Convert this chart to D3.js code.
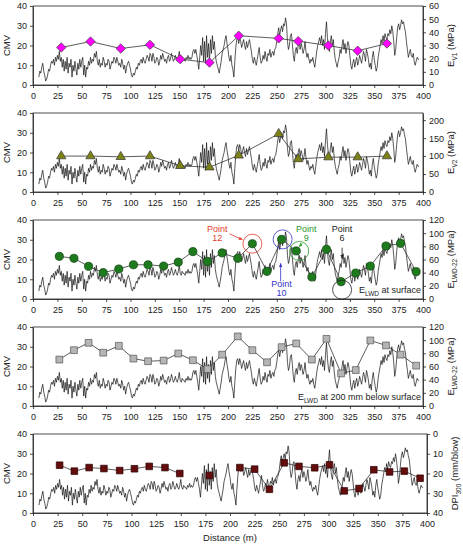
<!DOCTYPE html>
<html>
<head>
<meta charset="utf-8">
<script src="https://cdn.jsdelivr.net/npm/d3@7"></script>
<style>
  body { margin: 0; background: #fff; }
  svg { font-family: "Liberation Sans", Arial, sans-serif; }
</style>
</head>
<body>
<div class="chart"></div>
<script>
// CMV readings, one every 1 m starting at 6 m
const cmvStart = 6;
const cmvStep = 1;
const cmv = [
  4, 7, 6, 9, 11, 7, 5, 2, 3, 5,
  8, 7, 10, 12, 11, 13, 10, 14, 12, 15,
  13, 17, 12, 14, 9, 13, 7, 12, 8, 14,
  6, 11, 9, 13, 4, 10, 7, 12, 8, 5,
  11, 8, 13, 9, 12, 14, 5, 10, 4, 9,
  8, 12, 10, 14, 11, 13, 12, 16, 14, 17,
  12, 10, 13, 9, 11, 10, 14, 12, 9, 11,
  10, 13, 12, 8, 10, 12, 11, 14, 13, 11,
  14, 12, 10, 11, 9, 13, 11, 8, 10, 6,
  9, 11, 12, 10, 8, 5, 4, 6, 5, 7,
  9, 8, 11, 10, 12, 13, 11, 14, 12, 11,
  13, 15, 14, 12, 16, 15, 12, 16, 14, 11,
  12, 14, 13, 10, 12, 15, 13, 16, 14, 12,
  13, 11, 14, 15, 12, 13, 16, 14, 12, 13,
  15, 13, 12, 14, 17, 13, 12, 14, 13, 13,
  12, 14, 13, 15, 13, 14, 13, 14, 17, 18,
  16, 18, 15, 12, 8, 14, 20, 15, 24, 12,
  22, 11, 25, 14, 21, 12, 23, 16, 25, 18,
  22, 15, 12, 10, 8, 6, 9, 12, 16, 18,
  20, 23, 25, 21, 18, 14, 12, 15, 10, 8,
  4, 12, 19, 23, 24, 21, 24, 22, 19, 21,
  23, 20, 18, 22, 19, 21, 23, 20, 17, 13,
  11, 14, 12, 10, 13, 16, 19, 14, 11, 12,
  15, 13, 17, 14, 12, 16, 15, 18, 14, 16,
  17, 15, 18, 19, 22, 26, 29, 25, 28, 30,
  27, 31, 30, 34, 31, 22, 18, 20, 25, 26,
  21, 15, 12, 17, 19, 16, 20, 22, 18, 21,
  19, 16, 18, 22, 17, 14, 16, 13, 11, 13,
  12, 14, 11, 9, 13, 17, 20, 22, 24, 21,
  25, 20, 23, 18, 26, 32, 24, 19, 17, 22,
  25, 20, 23, 17, 13, 11, 9, 12, 14, 18,
  16, 20, 23, 18, 21, 16, 19, 22, 20, 15,
  10, 8, 11, 13, 9, 12, 14, 10, 12, 15,
  13, 11, 14, 17, 15, 12, 18, 16, 13, 9,
  11, 8, 14, 17, 13, 10, 7, 9, 14, 17,
  20, 23, 21, 25, 22, 26, 24, 23, 26, 25,
  28, 26, 30, 27, 22, 15, 18, 24, 29, 31,
  28, 30, 33, 31, 32, 29, 27, 22, 18, 14,
  16, 18, 15, 14, 16, 12, 10, 12, 14, 13,
  13
];

// plate load test stations
const plateDist = [29, 59, 90, 120, 151, 181, 211, 252, 272, 303, 333, 363];
const ev1 = [28.5, 33, 27.7, 30.5, 19.6, 17, 37.4, 35.4, 33.3, 30, 26, 31.5];
const ev2 = [100, 100, 98, 100, 73, 69, 102, 162, 92, 97, 97, 100];

// LWD / DCP stations
const lwdDist = [27, 42, 57, 72, 88, 103, 118, 134, 149, 164, 179, 194, 210,
  225, 240, 255, 270, 286, 301, 316, 331, 346, 362, 377, 393];
const elwdSurface = [64.8, 61.8, 49.6, 40, 45.6, 52, 52, 50, 56, 72, 57, 70, 61.8,
  84, 42, 90.6, 73, 33.4, 75.4, 26.3, 39.5, 50, 80.5, 84.5, 41.5];
const elwd200 = [70.5, 84.8, 96, 81, 91.4, 72, 68, 69, 79.7, 69.5, 56, 78, 105.7,
  84.8, 66.4, 89.4, 95, 70.5, 102, 49.5, 54.6, 99.6, 92, 78, 61.3];
const dpi300 = [15.8, 18.8, 17, 17.5, 18.5, 17.6, 16.4, 17, 20, null, 21, null, 17,
  17.8, 28, 14.6, 16.4, 17.1, 15.6, 28.8, 27.6, 18.1, 19.2, 18.8, 22.4];

const xTicks = d3.range(0, 401, 25);
const cmvTicks = [0, 10, 20, 30, 40];

const cmvData = cmv.map((v, i) => ({ x: cmvStart + i * cmvStep, y: v }));

const width = 463, height = 549;
const svg = d3.select(".chart").append("svg")
  .attr("width", width).attr("height", height);

const defs = svg.append("defs");
const arrowColors = { red: "#e33a2e", blue: "#3434c8", green: "#2c9a2c", black: "#222" };
Object.entries(arrowColors).forEach(([k, c]) => {
  defs.append("marker")
    .attr("id", "arrow-" + k)
    .attr("viewBox", "0 0 10 10")
    .attr("refX", 9).attr("refY", 5)
    .attr("markerWidth", 5).attr("markerHeight", 5)
    .attr("orient", "auto")
    .append("path").attr("d", "M0,1 L10,5 L0,9 z").attr("fill", c);
});

const panels = [
  { top: 6, right: 423, dist: plateDist, vals: ev1, domain: [0, 60], ticks: d3.range(0, 61, 10),
    shape: d3.symbolSquare, rotate: 45, size: 44, fill: "#ff00ff", stroke: "#444", label: ["E", "V1", " (MPa)"] },
  { top: 113, right: 423, dist: plateDist, vals: ev2, domain: [0, 220], ticks: d3.range(0, 201, 50),
    shape: d3.symbolTriangle, rotate: 0, size: 38, fill: "#7d8214", stroke: "#333", label: ["E", "V2", " (MPa)"] },
  { top: 220, right: 423, dist: lwdDist, vals: elwdSurface, domain: [0, 120], ticks: d3.range(0, 121, 20),
    shape: d3.symbolCircle, rotate: 0, size: 52, fill: "#1d7a1d", stroke: "#0d3d0d", label: ["E", "LWD-22", " (MPa)"] },
  { top: 327, right: 423, dist: lwdDist, vals: elwd200, domain: [0, 120], ticks: d3.range(0, 121, 20),
    shape: d3.symbolSquare, rotate: 0, size: 46, fill: "#b5b5b5", stroke: "#555", label: ["E", "LWD-22", " (MPa)"] },
  { top: 434, right: 427, dist: lwdDist, vals: dpi300, domain: [0, 40], reversed: true, ticks: d3.range(0, 41, 10),
    shape: d3.symbolSquare, rotate: 0, size: 44, fill: "#650d0d", stroke: "#2a0000", label: ["DPI", "300", " (mm/blow)"] }
];

const left = 33, plotH = 79;

panels.forEach((p, idx) => {
  const bottom = p.top + plotH;
  const x = d3.scaleLinear().domain([0, 400]).range([left, p.right]);
  const y = d3.scaleLinear().domain([0, 40]).range([bottom, p.top]);
  const yR = d3.scaleLinear().domain(p.domain)
    .range(p.reversed ? [p.top, bottom] : [bottom, p.top]);

  const g = svg.append("g");

  // frame
  g.append("rect")
    .attr("x", left).attr("y", p.top)
    .attr("width", p.right - left).attr("height", plotH)
    .attr("fill", "none").attr("stroke", "#222").attr("stroke-width", 0.8);

  // CMV trace
  const cmvLine = d3.line().x((d) => x(d.x)).y((d) => y(d.y));
  g.append("path")
    .datum(cmvData)
    .attr("d", cmvLine)
    .attr("fill", "none")
    .attr("stroke", "#111")
    .attr("stroke-width", 0.7)
    .attr("stroke-linejoin", "round");

  // test points
  const pts = p.dist.map((d, i) => ({ x: d, v: p.vals[i] }));
  const ptLine = d3.line()
    .defined((d) => d.v != null)
    .x((d) => x(d.x)).y((d) => yR(d.v));
  g.append("path")
    .datum(pts)
    .attr("d", ptLine)
    .attr("fill", "none")
    .attr("stroke", "#333")
    .attr("stroke-width", 0.8);

  g.selectAll(".pt")
    .data(pts.filter((d) => d.v != null))
    .enter()
    .append("path")
    .attr("class", "pt")
    .attr("transform", (d) => `translate(${x(d.x)},${yR(d.v)}) rotate(${p.rotate})`)
    .attr("d", d3.symbol().type(p.shape).size(p.size))
    .attr("fill", p.fill)
    .attr("stroke", p.stroke)
    .attr("stroke-width", 0.7);

  // axes
  const axX = g.append("g")
    .attr("transform", `translate(0,${bottom})`)
    .call(d3.axisBottom(x).tickValues(xTicks).tickSize(3).tickSizeOuter(0));
  const axL = g.append("g")
    .attr("transform", `translate(${left},0)`)
    .call(d3.axisLeft(y).tickValues(cmvTicks).tickSize(3).tickSizeOuter(0));
  const axR = g.append("g")
    .attr("transform", `translate(${p.right},0)`)
    .call(d3.axisRight(yR).tickValues(p.ticks).tickSize(3).tickSizeOuter(0));

  [axX, axL, axR].forEach((a) => {
    a.select(".domain").attr("stroke", "#222").attr("stroke-width", 0.8);
    a.selectAll(".tick line").attr("stroke", "#222").attr("stroke-width", 0.8);
    a.selectAll("text").attr("font-size", 9).attr("fill", "#222")
      .attr("font-family", "Liberation Sans, Arial, sans-serif");
  });
  axX.selectAll("text").attr("dy", "0.9em");

  // axis titles
  g.append("text")
    .attr("transform", `translate(10,${(p.top + bottom) / 2}) rotate(-90)`)
    .attr("text-anchor", "middle")
    .attr("font-size", 9.5).attr("fill", "#222")
    .text("CMV");

  const rl = g.append("text")
    .attr("transform", `translate(${p.right + 31},${(p.top + bottom) / 2}) rotate(-90)`)
    .attr("text-anchor", "middle")
    .attr("font-size", 9.5).attr("fill", "#222");
  rl.append("tspan").text(p.label[0]);
  rl.append("tspan").attr("font-size", 6.5).attr("dy", 2.5).text(p.label[1]);
  rl.append("tspan").attr("dy", -2.5).text(p.label[2]);

  if (idx === 2) {
    const ann = [
      { d: 225, v: 84, color: "red", text: ["Point", "12"], cdx: 0, cdy: 0, tx: -35, ty: -12, ax1: [-23, -10], ax2: [-10, -4] },
      { d: 255, v: 90.6, color: "blue", text: ["Point", "10"], cdx: 1, cdy: 0, tx: 0, ty: 48, ax1: [-1, 42], ax2: [-1, 24] },
      { d: 270, v: 73, color: "green", text: ["Point", "9"], cdx: 3, cdy: 0, tx: 10, ty: -19, ax1: [6, -8], ax2: [3, -4] },
      { d: 316, v: 26.3, color: "black", text: ["Point", "6"], cdx: 1, cdy: 8, tx: 1, ty: -50, ax1: [1, -34], ax2: [1, -23] }
    ];
    ann.forEach((a) => {
      const cx = x(a.d), cy = yR(a.v);
      const col = arrowColors[a.color];
      g.append("circle")
        .attr("cx", cx + a.cdx).attr("cy", cy + a.cdy).attr("r", 9.5)
        .attr("fill", "none").attr("stroke", col).attr("stroke-width", 0.8);
      const t = g.append("text")
        .attr("x", cx + a.tx).attr("y", cy + a.ty)
        .attr("text-anchor", "middle")
        .attr("font-size", 9).attr("fill", col);
      t.append("tspan").attr("x", cx + a.tx).text(a.text[0]);
      t.append("tspan").attr("x", cx + a.tx).attr("dy", 9).text(a.text[1]);
      g.append("line")
        .attr("x1", cx + a.ax1[0]).attr("y1", cy + a.ax1[1])
        .attr("x2", cx + a.ax2[0]).attr("y2", cy + a.ax2[1])
        .attr("stroke", col).attr("stroke-width", 0.8)
        .attr("marker-end", `url(#arrow-${a.color})`);
    });
  }

  if (idx === 2 || idx === 3) {
    const lt = g.append("text")
      .attr("x", p.right - 2).attr("y", bottom - 6)
      .attr("text-anchor", "end")
      .attr("font-size", 9).attr("fill", "#222");
    lt.append("tspan").text("E");
    lt.append("tspan").attr("font-size", 6.5).attr("dy", 2.5).text("LWD");
    lt.append("tspan").attr("dy", -2.5).text(idx === 2 ? " at surface" : " at 200 mm below surface");
  }
});

svg.append("text")
  .attr("x", 230).attr("y", 541)
  .attr("text-anchor", "middle")
  .attr("font-size", 9.5).attr("fill", "#222")
  .text("Distance (m)");
</script>
</body>
</html>
